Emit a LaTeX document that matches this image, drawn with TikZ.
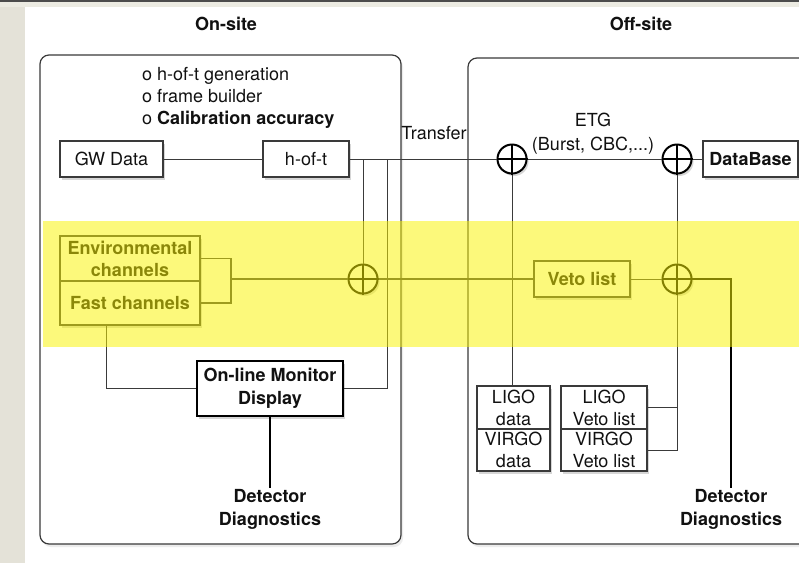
\documentclass[tikz,border=0pt]{standalone}
\usepackage{fontspec}
\setmainfont{TeX Gyre Heros}
\usetikzlibrary{shadows,calc}
\definecolor{bgbeige}{HTML}{E4E2D8}
\definecolor{topbeige}{HTML}{ECEBE2}
\definecolor{linegray}{HTML}{3A3A3A}
\definecolor{txt}{HTML}{111111}
\definecolor{bandyellow}{RGB}{251,245,3}
\tikzset{
  fnt/.style={font=\fontsize{18}{22}\selectfont, text=txt},
  sh/.style={drop shadow={opacity=0.32,shadow xshift=2pt,shadow yshift=-2.5pt}},
  box/.style={fnt, draw=linegray, line width=1.2pt, fill=white, inner sep=0pt, align=center, sh},
  pluscirc/.style={circle, draw=black, line width=2pt, fill=white, minimum size=29pt, inner sep=0pt, sh},
  conn/.style={draw=linegray, line width=1pt},
  thick conn/.style={draw=black, line width=2pt},
  site/.style={draw=linegray, line width=1.2pt, fill=white, rounded corners=9pt, drop shadow={opacity=0.15,shadow xshift=2pt,shadow yshift=-3pt}},
  label/.style={fnt, inner sep=1pt, align=center},
}
\begin{document}
\begin{tikzpicture}[x=1pt,y=-1pt]
\useasboundingbox (0,0) rectangle (799,563);
\clip (0,0) rectangle (799,563);
% background
\fill[bgbeige] (0,0) rectangle (799,563);
\fill[topbeige] (0,0) rectangle (799,7);
\fill[black!70] (0,0) rectangle (799,2);
\fill[white] (25,7) rectangle (799,563);

% site frames
\path[site] (40,55) rectangle (401,544);
\path[site] (468,58) rectangle (830,544);
\node[label, font=\fontsize{18}{22}\selectfont\bfseries] (onsite) at (226,24) {On-site};
\node[label, font=\fontsize{18}{22}\selectfont\bfseries] (offsite) at (641,24) {Off-site};

% bullet list
\node[label, anchor=west, align=left] (bullets) at (141,98)
  {o h-of-t generation\\o frame builder\\o \textbf{Calibration accuracy}};

% boxes
\node[box, minimum width=103pt, minimum height=36pt] (gw) at (111.5,159) {GW Data};
\node[box, minimum width=86pt, minimum height=36pt] (hoft) at (306,159) {h-of-t};
\node[box, minimum width=95pt, minimum height=36pt, font=\fontsize{18}{22}\selectfont\bfseries] (db) at (750.5,159) {DataBase};

\node[box, minimum width=140pt, minimum height=45pt, font=\fontsize{18}{22}\selectfont\bfseries] (env) at (130,258.5) {Environmental\\channels};
\node[box, minimum width=140pt, minimum height=44pt, font=\fontsize{18}{22}\selectfont\bfseries] (fast) at (130,303) {Fast channels};
\node[box, minimum width=96pt, minimum height=36pt, font=\fontsize{18}{22}\selectfont\bfseries] (veto) at (582,279) {Veto list};

\node[box, line width=2.4pt, draw=black, minimum width=146pt, minimum height=55pt, font=\fontsize{18}{23}\selectfont\bfseries] (olm) at (270,388.5) {On-line Monitor\\Display};

\node[box, minimum width=73pt, minimum height=43pt] (ligo) at (513.5,407.5) {LIGO\\data};
\node[box, minimum width=73pt, minimum height=42pt] (virgo) at (513.5,450) {VIRGO\\data};
\node[box, minimum width=86pt, minimum height=43pt] (lveto) at (604,407.5) {LIGO\\Veto list};
\node[box, minimum width=86pt, minimum height=42pt] (vveto) at (604,450) {VIRGO\\Veto list};

% circles
\node[pluscirc] (c1) at (512,159) {};
\node[pluscirc] (c2) at (677,159) {};
\node[pluscirc] (c3) at (363,279) {};
\node[pluscirc] (c4) at (677,279) {};
\foreach \c in {c1,c2,c3,c4}{
  \draw[black, line width=1.8pt] (\c.north) -- (\c.south) (\c.west) -- (\c.east);
}

% labels
\node[label] (transfer) at (434,133) {Transfer};
\node[label, font=\fontsize{18}{24}\selectfont] (etg) at (593,134) {ETG\\(Burst, CBC,...)};
\node[label, font=\fontsize{18}{23}\selectfont\bfseries, anchor=north] (dd1) at (270,488) {Detector\\Diagnostics};
\node[label, font=\fontsize{18}{23}\selectfont\bfseries, anchor=north] (dd2) at (731,488) {Detector\\Diagnostics};

% coordinates
\coordinate (j1) at (363,159);
\coordinate (j2) at (387,159);
\coordinate (br) at (231,279);

% connectors
\draw[conn] (gw.east) -- (hoft.west);
\draw[conn] (hoft.east) -- (c1.west);
\draw[conn] (c1.east) -- (c2.west);
\draw[conn] (c2.east) -- (db.west);
\draw[conn] (j1) -- (c3.north);
\draw[conn] (olm.east) -| (j2);
\draw[conn, line width=1.3pt] (env.east) -| (br) |- (fast.east);
\draw[conn, line width=1.3pt] (br) -- (c3.west);
\draw[conn, line width=1.3pt] (c3.east) -- (veto.west);
\draw[conn] (veto.east) -- (c4.west);
\draw[thick conn] (c4.east) -| (dd2.north);
\draw[thick conn] (olm.south) -- (dd1.north);
\draw[conn] (c1.south) -- (c1.south |- ligo.north);
\draw[conn] (c2.south) -- (c4.north);
\draw[conn] (c4.south) |- (vveto.east);
\draw[conn] (lveto.east) -- (lveto.east -| c4.south);
\draw[conn] (fast.south west) ++(47,0) |- (olm.west);

% yellow band overlay
\fill[bandyellow, opacity=0.52] (43,221) rectangle (799,347);
\end{tikzpicture}
\end{document}
